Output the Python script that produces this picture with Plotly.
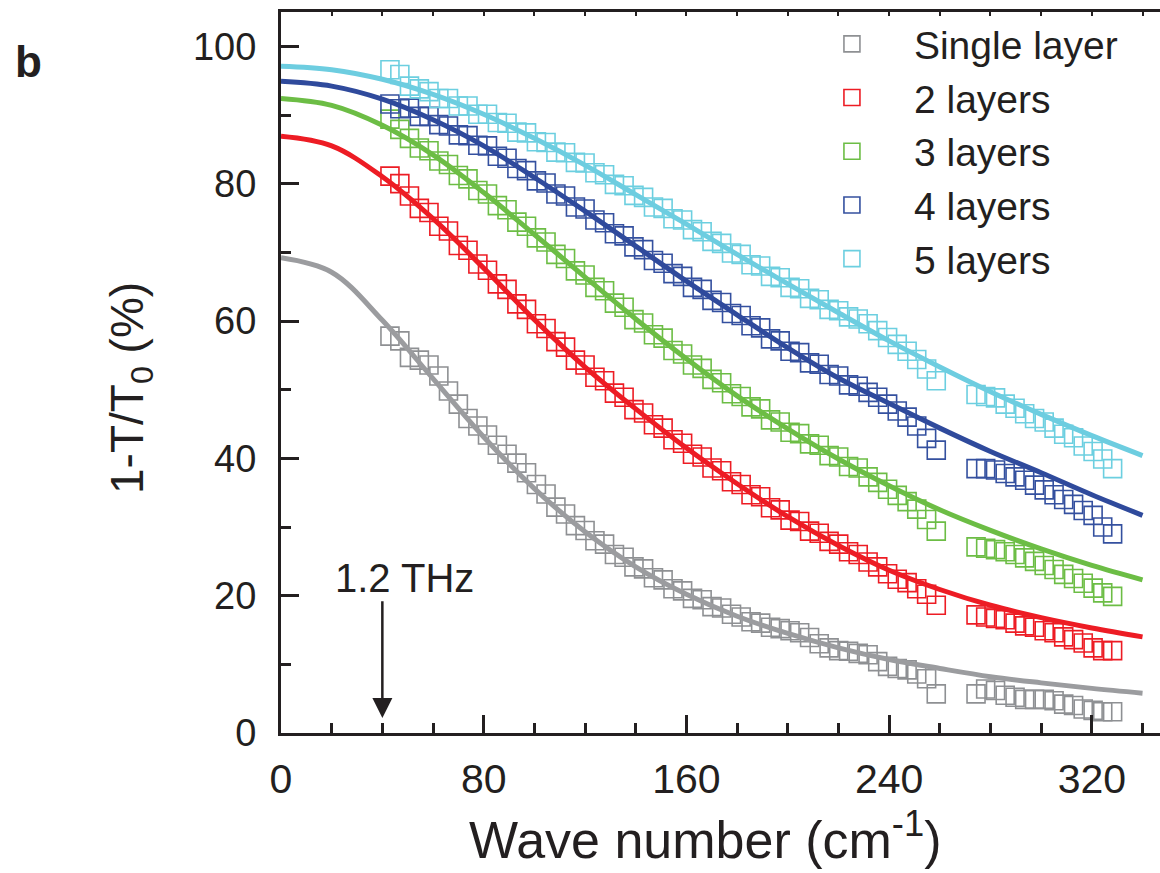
import plotly.graph_objects as go

# ---------------- data ----------------
wn_seg1 = [43.0, 46.9, 50.7, 54.6, 58.4, 62.3, 66.1, 70.0, 73.8, 77.7,
           81.5, 85.4, 89.2, 93.1, 96.9, 100.8, 104.6, 108.5, 112.3, 116.2,
           120.0, 123.9, 127.7, 131.6, 135.4, 139.3, 143.1, 147.0, 150.8, 154.7,
           158.5, 162.4, 166.2, 170.1, 173.9, 177.8, 181.6, 185.5, 189.3, 193.2,
           197.0, 200.9, 204.7, 208.6, 212.4, 216.3, 220.1, 224.0, 227.8, 231.7,
           235.5, 239.4, 243.2, 247.1, 250.9, 254.8, 258.6]
wn_seg2 = [274.3, 278.1, 282.0, 285.8, 289.7, 293.5, 297.4, 301.2, 305.1, 308.9,
           312.8, 316.6, 320.5, 324.3, 328.2]
wavenumber = wn_seg1 + wn_seg2

single_layer = [57.8, 57.1, 54.7, 54.3, 53.6, 52.0, 49.8, 47.9, 45.8, 44.7,
                43.4, 41.9, 40.6, 39.3, 37.9, 36.2, 34.8, 32.9, 31.9, 30.2,
                29.5, 28.0, 27.5, 26.0, 25.6, 24.2, 23.9, 22.6, 22.3, 21.0,
                20.7, 19.6, 19.4, 18.4, 18.2, 17.3, 16.9, 16.2, 16.0, 15.4,
                15.2, 14.9, 14.6, 13.9, 13.0, 12.4, 12.0, 11.9, 11.6, 11.4,
                10.4, 9.7, 9.4, 9.2, 8.6, 7.9, 5.7,
                5.7, 6.4, 6.2, 5.5, 5.2, 4.9, 4.9, 4.9, 4.7, 4.2,
                4.0, 3.5, 3.3, 3.1, 3.1]
two_layers = [81.1, 80.0, 78.2, 76.4, 75.8, 73.8, 73.1, 71.0, 70.3, 68.3,
              67.4, 65.4, 64.6, 62.5, 61.7, 59.6, 58.9, 57.0, 56.2, 54.3,
              53.6, 51.8, 51.3, 49.5, 48.9, 47.1, 46.6, 44.9, 44.4, 42.7,
              42.2, 40.6, 40.2, 38.6, 38.2, 36.6, 36.2, 34.7, 34.4, 32.8,
              32.5, 31.0, 30.8, 29.4, 29.1, 27.9, 27.5, 26.4, 26.0, 24.9,
              24.2, 23.2, 22.4, 21.9, 21.0, 20.2, 18.6,
              17.2, 16.9, 16.7, 16.5, 16.0, 15.6, 15.4, 14.9, 14.6, 14.0,
              13.6, 13.1, 12.4, 12.0, 12.0]
three_layers = [89.4, 87.9, 86.6, 85.2, 84.8, 83.3, 82.8, 81.2, 80.7, 79.0,
                78.5, 76.8, 76.2, 74.4, 73.8, 72.1, 71.5, 69.7, 69.1, 67.3,
                66.7, 64.9, 64.4, 62.6, 62.0, 60.2, 59.7, 58.0, 57.5, 55.7,
                55.2, 53.6, 53.1, 51.5, 51.0, 49.4, 49.0, 47.5, 47.2, 45.6,
                45.3, 43.8, 43.6, 42.1, 41.9, 40.4, 40.2, 38.8, 38.6, 37.3,
                36.5, 35.5, 34.6, 33.7, 32.6, 31.1, 29.4,
                27.1, 26.9, 26.7, 26.4, 26.0, 25.5, 25.0, 24.4, 23.8, 23.1,
                22.5, 21.8, 21.1, 20.4, 19.9]
four_layers = [91.6, 90.9, 91.0, 89.8, 89.8, 88.6, 88.4, 87.1, 87.0, 85.6,
               85.5, 84.0, 83.7, 82.2, 81.9, 80.4, 80.1, 78.5, 78.2, 76.6,
               76.3, 74.7, 74.3, 72.7, 72.4, 70.8, 70.4, 68.8, 68.4, 66.9,
               66.5, 64.9, 64.6, 63.0, 62.7, 61.1, 60.8, 59.3, 59.0, 57.4,
               57.1, 55.6, 55.4, 53.9, 53.7, 52.2, 52.0, 50.7, 50.5, 49.6,
               48.9, 47.9, 46.9, 46.0, 44.7, 42.9, 41.2,
               38.5, 38.5, 38.3, 37.8, 37.3, 36.8, 36.1, 35.4, 34.7, 34.0,
               33.3, 32.4, 31.7, 30.0, 29.0]
five_layers = [96.6, 95.9, 94.2, 93.8, 93.4, 92.4, 92.4, 91.3, 91.3, 90.1,
               90.1, 88.9, 88.8, 87.5, 87.4, 86.1, 86.0, 84.6, 84.5, 83.1,
               83.0, 81.6, 81.3, 79.9, 79.7, 78.3, 78.0, 76.6, 76.4, 74.9,
               74.7, 73.3, 73.0, 71.6, 71.3, 69.9, 69.7, 68.2, 68.0, 66.5,
               66.3, 64.9, 64.7, 63.3, 63.1, 61.7, 61.5, 60.6, 60.3, 59.6,
               58.6, 57.6, 56.6, 55.6, 54.4, 53.0, 51.3,
               49.3, 49.0, 48.8, 47.9, 47.3, 46.5, 45.8, 45.3, 44.4, 43.5,
               43.0, 41.8, 41.0, 39.9, 38.5]

fit_x = [0, 20, 40, 60, 80, 100, 120, 140, 160, 180, 200, 220, 240, 260, 280, 300, 320, 340]
fit_single = [69.2, 67.1, 60.1, 51.6, 43.1, 35.6, 29.3, 24.2, 20.2, 17.0, 14.5, 12.4, 10.7, 9.4, 8.2, 7.3, 6.5, 5.8]
fit_two = [86.9, 85.5, 81.0, 74.9, 67.7, 60.2, 53.3, 47.2, 41.5, 36.3, 31.5, 27.3, 23.7, 20.9, 18.6, 16.8, 15.3, 14.0]
fit_three = [92.4, 91.4, 88.5, 84.2, 78.7, 72.6, 66.4, 60.3, 54.5, 49.1, 44.3, 39.9, 36.0, 32.5, 29.5, 26.8, 24.4, 22.3]
fit_four = [94.9, 94.2, 92.3, 89.3, 85.5, 80.9, 76.0, 70.9, 65.8, 60.9, 56.1, 51.7, 48.0, 44.4, 41.0, 37.9, 34.7, 31.7]
fit_five = [97.1, 96.6, 95.2, 93.0, 90.1, 86.6, 82.7, 78.4, 74.1, 69.7, 65.4, 61.2, 57.1, 53.3, 49.7, 46.4, 43.3, 40.4]

series_names = ["Single layer", "2 layers", "3 layers", "4 layers", "5 layers"]
x_tick_vals = [0, 80, 160, 240, 320]
y_tick_vals = [0, 20, 40, 60, 80, 100]
arrow_wn = 40          # 1.2 THz
arrow_label = "1.2 THz"

# ---------------- style ----------------
marker_colors = ["#8e9093", "#ed1c24", "#6cbd45", "#34509f", "#6ccfe0"]
line_colors = ["#9b9c9f", "#ed1c24", "#6cbd45", "#2f4a9c", "#6dcde0"]
FONT = "Liberation Sans, Arial, Helvetica, sans-serif"
INK = "#231f20"

data_series = [single_layer, two_layers, three_layers, four_layers, five_layers]
fit_series = [fit_single, fit_two, fit_three, fit_four, fit_five]

fig = go.Figure()
for name, ys, mc in zip(series_names, data_series, marker_colors):
    fig.add_trace(go.Scatter(
        x=wavenumber, y=ys, mode="markers", name=name,
        marker=dict(symbol="square-open", size=18, color=mc,
                    line=dict(width=1.6, color=mc)),
        cliponaxis=False))
for ys, lc in zip(fit_series, line_colors):
    fig.add_trace(go.Scatter(
        x=fit_x, y=ys, mode="lines", showlegend=False,
        line=dict(color=lc, width=5, shape="spline", smoothing=1.0)))

# dummy trace so the top tick axis is drawn
fig.add_trace(go.Scatter(x=[0], y=[None], xaxis="x2", showlegend=False,
                         hoverinfo="skip", mode="markers"))

fig.update_layout(
    width=1160, height=873,
    margin=dict(l=281, r=0, t=12, b=140),
    paper_bgcolor="white", plot_bgcolor="white",
    font=dict(family=FONT, color=INK),
    showlegend=True,
    legend=dict(x=0.579, xanchor="left", y=1.0, yanchor="top",
                font=dict(size=39, family=FONT, color=INK),
                bgcolor="rgba(0,0,0,0)", itemwidth=114,
                tracegroupgap=0, borderwidth=0),
    xaxis=dict(range=[0, 346.9], showgrid=False, zeroline=False,
               showline=True, linecolor=INK, linewidth=3, mirror=True,
               ticks="inside", ticklen=18, tickwidth=2.5, tickcolor=INK,
               tickvals=x_tick_vals, ticktext=[str(v) for v in x_tick_vals],
               tickfont=dict(size=41, family=FONT, color=INK),
               ticklabelstandoff=8,
               minor=dict(ticks="inside", ticklen=10, tickwidth=2.5,
                          tickcolor=INK, dtick=20, tick0=0, showgrid=False)),
    xaxis2=dict(range=[0, 346.9], overlaying="x", side="top",
                showgrid=False, zeroline=False, showline=False,
                ticks="inside", ticklen=4, tickwidth=2, tickcolor=INK,
                dtick=20, tick0=0, showticklabels=False),
    yaxis=dict(range=[0, 105], showgrid=False, zeroline=False,
               showline=True, linecolor=INK, linewidth=3, mirror=False,
               ticks="inside", ticklen=18, tickwidth=2.5, tickcolor=INK,
               tickvals=y_tick_vals, ticktext=[str(v) for v in y_tick_vals],
               tickfont=dict(size=38, family=FONT, color=INK),
               ticklabelstandoff=14,
               minor=dict(ticks="inside", ticklen=10, tickwidth=2.5,
                          tickcolor=INK, dtick=10, tick0=0, showgrid=False)),
)

# axis titles (placed as annotations to match the original offsets)
fig.add_annotation(x=(705 - 281) / 879, y=-(836 - 733) / 721, xref="paper", yref="paper",
                   xanchor="center", yanchor="middle", showarrow=False,
                   text="Wave number (cm<sup>-1</sup>)",
                   font=dict(size=52, family=FONT, color=INK))
fig.add_annotation(x=(130 - 281) / 879, y=(733 - 388) / 721, xref="paper", yref="paper",
                   xanchor="center", yanchor="middle", showarrow=False, textangle=-90,
                   text="1-T/T<sub>0</sub> (%)",
                   font=dict(size=46, family=FONT, color=INK))

# arrow at 1.2 THz
fig.add_annotation(x=arrow_wn, y=2.2, ax=arrow_wn, ay=19.4,
                   xref="x", yref="y", axref="x", ayref="y",
                   showarrow=True, arrowhead=2, arrowsize=1.6,
                   arrowwidth=2.5, arrowcolor=INK, text="")
fig.add_annotation(x=48.9, y=22.6, xref="x", yref="y", text=arrow_label,
                   xanchor="center", yanchor="middle",
                   showarrow=False, font=dict(size=40, family=FONT, color=INK))
# panel label
fig.add_annotation(x=(28 - 281) / 879, y=(733 - 62) / 721, xref="paper", yref="paper",
                   xanchor="center", yanchor="middle", text="<b>b</b>",
                   showarrow=False, font=dict(size=44, family=FONT, color=INK))

fig.write_html("out.html")
